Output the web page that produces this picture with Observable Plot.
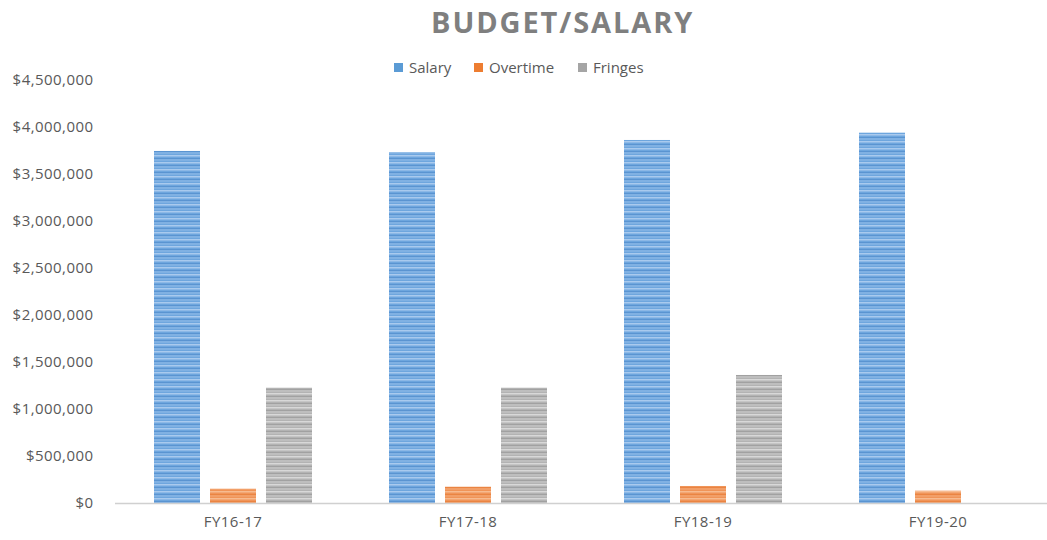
<!DOCTYPE html>
<html>
<head>
<meta charset="utf-8">
<script src="https://cdn.jsdelivr.net/npm/d3@7"></script>
<script src="https://cdn.jsdelivr.net/npm/@observablehq/plot@0.6"></script>
<style>
  html, body { margin: 0; padding: 0; background: #fff; overflow: hidden; }
  #wrap { width: 1047px; height: 540px; position: relative; overflow: hidden; font-family: "Open Sans", sans-serif; }
  #head { height: 56px; position: relative; }
  #title { position: absolute; left: 431px; top: 2px; font-size: 29px; font-weight: 700; letter-spacing: 1.9px; color: #7f7f7f; white-space: nowrap; }
  .leg { position: absolute; top: 57px; font-size: 15px; color: #595959; white-space: nowrap; display: flex; align-items: center; }
  .sw { display: inline-block; width: 9px; height: 9px; margin-right: 6px; }
  #chart { width: 1047px; overflow: hidden; }
  #chart svg { display: block; max-width: none !important; }
  #chart svg text { letter-spacing: 0.45px; }
</style>
</head>
<body>
<div id="wrap">
  <div id="head">
    <div id="title">BUDGET/SALARY</div>
  </div>
  <div id="chart"></div>
</div>
<script>
const years = ["FY16-17", "FY17-18", "FY18-19", "FY19-20"];
const series = ["Salary", "Overtime", "Fringes"];
const salary = [3745000, 3732000, 3862000, 3940000];
const overtime = [152000, 173000, 181000, 131000];
const fringes = [1227000, 1227000, 1362000, null];
const yTicks = [0, 500000, 1000000, 1500000, 2000000, 2500000, 3000000, 3500000, 4000000, 4500000];
const legendColors = ["#5b9bd5", "#ed7d31", "#a5a5a5"];

// legend (HTML, above the SVG)
const head = document.getElementById("head");
const legLeft = [394, 474, 578];
series.forEach((s, i) => {
  const d = document.createElement("div");
  d.className = "leg";
  d.style.left = legLeft[i] + "px";
  d.innerHTML = `<span class="sw" style="background:${legendColors[i]}"></span>${s}`;
  head.appendChild(d);
});

const valuesBySeries = { Salary: salary, Overtime: overtime, Fringes: fringes };
const rows = series.map(s => years.map((y, i) => ({ year: y, series: s, value: valuesBySeries[s][i] }))
  .filter(d => d.value != null));

const pid = { Salary: "p-sal", Overtime: "p-ot", Fringes: "p-fr" };

const chart = Plot.plot({
  width: 1055,
  height: 484,
  marginTop: 24,
  marginBottom: 37,
  marginLeft: 115,
  marginRight: 0,
  style: { fontFamily: "'Open Sans', sans-serif", fontSize: "15px", color: "#595959", background: "#fff", maxWidth: "none" },
  fx: { domain: years, padding: 0, label: null, axis: null },
  x: { domain: series, paddingInner: 0.1786, paddingOuter: 0.687, axis: null },
  y: { domain: [0, 4500000], label: null },
  marks: [
    ...series.map((s, i) => Plot.barY(rows[i], { fx: "year", x: "series", y: "value", fill: `url(#${pid[s]})`, inset: 0 })),
    Plot.ruleY([0], { stroke: "#d0d0d0", strokeWidth: 1.5 }),
    Plot.axisY({ ticks: yTicks, tickFormat: d => "$" + d3.format(",")(d), tickSize: 0, tickPadding: 22, label: null, fill: "#595959", fontSize: 15 }),
    Plot.axisFx({ anchor: "bottom", tickSize: 0, tickPadding: 13, label: null, fill: "#595959", fontSize: 15 })
  ]
});
chart.style.maxWidth = "none";

// stripe patterns to mimic the banded texture of the bars
const svg = d3.select(chart);
const defs = svg.insert("defs", ":first-child");
const pats = [
  { id: "p-sal", base: "#6ea6de", light: "#a9caee", dark: "#5a94d1" },
  { id: "p-ot", base: "#f09458", light: "#f7bb90", dark: "#ea8442" },
  { id: "p-fr", base: "#b3b3b3", light: "#d8d8d8", dark: "#a1a1a1" }
];
pats.forEach(p => {
  const pat = defs.append("pattern").attr("id", p.id).attr("patternUnits", "userSpaceOnUse")
    .attr("width", 8).attr("height", 7);
  pat.append("rect").attr("width", 8).attr("height", 7).attr("fill", p.base);
  pat.append("rect").attr("y", 1).attr("width", 8).attr("height", 1.5).attr("fill", p.light);
  pat.append("rect").attr("y", 4).attr("width", 8).attr("height", 1).attr("fill", p.dark);
  pat.append("rect").attr("y", 5.5).attr("width", 8).attr("height", 1).attr("fill", p.light).attr("opacity", 0.6);
});

document.getElementById("chart").appendChild(chart);
</script>
</body>
</html>
